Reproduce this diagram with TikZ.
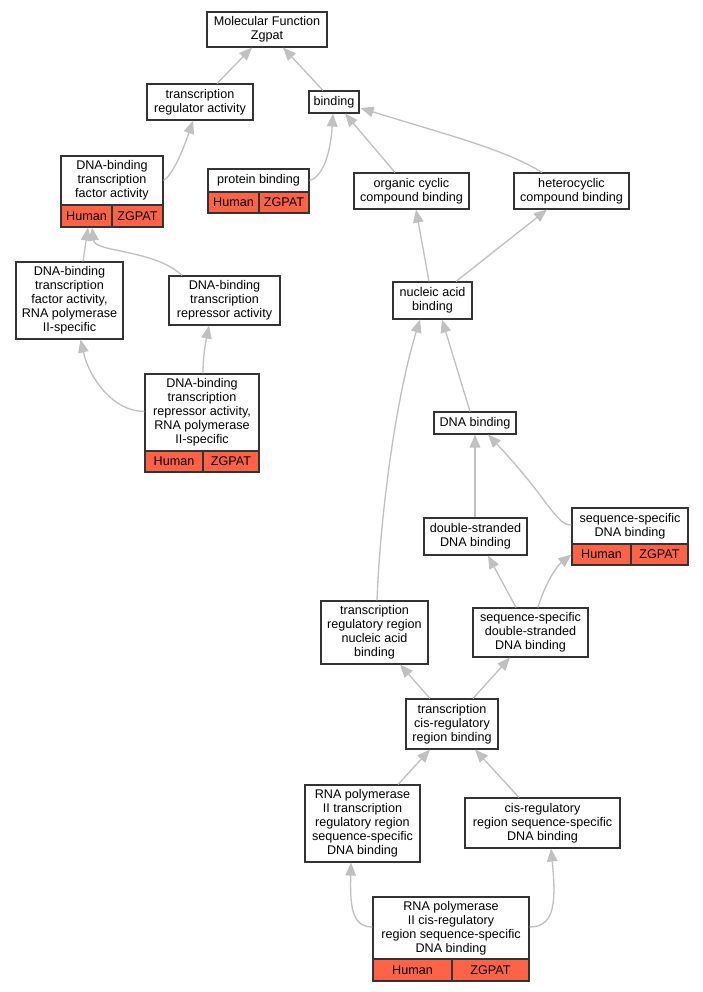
\documentclass[tikz,border=0pt]{standalone}
\usepackage{fontspec}
\setmainfont{Liberation Sans}
\usetikzlibrary{arrows.meta,calc}
\definecolor{edgec}{HTML}{C0C0C0}
\definecolor{boxc}{HTML}{333333}
\definecolor{annot}{HTML}{FF6347}
\begin{document}
\begin{tikzpicture}[x=1pt,y=-1pt,
  box/.style={draw=boxc,line width=1.1pt,fill=white,inner sep=0pt,align=center,font=\fontsize{12.6}{14}\selectfont},
  cell/.style={box,fill=annot},
  edge/.style={draw=edgec,line width=1.3pt,-{Triangle[length=13pt,width=10.5pt]}}]
\fill[white] (0,0) rectangle (703,992);
\useasboundingbox (0,0) rectangle (703,992);
% nodes
\node[box,minimum width=120pt,minimum height=35pt] (mf) at (267,29.5) {Molecular Function\\Zgpat};
\node[box,minimum width=106pt,minimum height=36pt] (tra) at (200,102) {transcription\\regulator activity};
\node[box,minimum width=50pt,minimum height=22pt] (bind) at (334,102) {binding};
\node[box,minimum width=102pt,minimum height=49pt] (dbtfa) at (112,180.5) {DNA-binding\\transcription\\factor activity};
\node[cell,minimum width=51pt,minimum height=22pt] (dbtfaH) at (86.5,216) {Human};
\node[cell,minimum width=51pt,minimum height=22pt] (dbtfaZ) at (137.5,216) {ZGPAT};
\node[box,minimum width=101pt,minimum height=23pt] (prot) at (258.5,180.5) {protein binding};
\node[cell,minimum width=51pt,minimum height=21pt] (protH) at (233.5,202.5) {Human};
\node[cell,minimum width=50pt,minimum height=21pt] (protZ) at (284,202.5) {ZGPAT};
\node[box,minimum width=115pt,minimum height=36pt] (org) at (411.5,191) {organic cyclic\\compound binding};
\node[box,minimum width=115pt,minimum height=36pt] (het) at (571.5,191) {heterocyclic\\compound binding};
\node[box,minimum width=79pt,minimum height=37pt] (nab) at (432.5,300.5) {nucleic acid\\binding};
\node[box,minimum width=107pt,minimum height=77pt] (dbtf2) at (69.5,300.5) {DNA-binding\\transcription\\factor activity,\\RNA polymerase\\II-specific};
\node[box,minimum width=111pt,minimum height=49pt] (dbtr) at (224.5,300.5) {DNA-binding\\transcription\\repressor activity};
\node[box,minimum width=114pt,minimum height=77pt] (dbtr2) at (202,412.5) {DNA-binding\\transcription\\repressor activity,\\RNA polymerase\\II-specific};
\node[cell,minimum width=58pt,minimum height=21pt] (dbtr2H) at (174,461.5) {Human};
\node[cell,minimum width=56pt,minimum height=21pt] (dbtr2Z) at (231,461.5) {ZGPAT};
\node[box,minimum width=82pt,minimum height=22pt] (dnab) at (475,423) {DNA binding};
\node[box,minimum width=103pt,minimum height=37pt] (ds) at (475.5,536.5) {double-stranded\\DNA binding};
\node[box,minimum width=116pt,minimum height=36pt] (ssd) at (630,526) {sequence-specific\\DNA binding};
\node[cell,minimum width=59pt,minimum height=21pt] (ssdH) at (601.5,554.5) {Human};
\node[cell,minimum width=57pt,minimum height=21pt] (ssdZ) at (659.5,554.5) {ZGPAT};
\node[box,minimum width=107pt,minimum height=63pt] (trr) at (374.5,632.5) {transcription\\regulatory region\\nucleic acid\\binding};
\node[box,minimum width=115pt,minimum height=49pt] (ssds) at (530.5,632.5) {sequence-specific\\double-stranded\\DNA binding};
\node[box,minimum width=92pt,minimum height=50pt] (tcrrb) at (452,724) {transcription\\cis-regulatory\\region binding};
\node[box,minimum width=115pt,minimum height=77pt] (rna2trr) at (362.5,823.5) {RNA polymerase\\II transcription\\regulatory region\\sequence-specific\\DNA binding};
\node[box,minimum width=155pt,minimum height=50pt] (cisr) at (542.5,823) {cis-regulatory\\region sequence-specific\\DNA binding};
\node[box,minimum width=156pt,minimum height=62pt] (rna2cis) at (451,928) {RNA polymerase\\II cis-regulatory\\region sequence-specific\\DNA binding};
\node[cell,minimum width=79pt,minimum height=22pt] (rna2cisH) at (412.5,970) {Human};
\node[cell,minimum width=77pt,minimum height=22pt] (rna2cisZ) at (490.5,970) {ZGPAT};
% edges
\draw[edge] ($(tra.north)+(17,0)$) -- ($(mf.south)+(-15,0)$);
\draw[edge] ($(bind.north)+(-11,0)$) -- ($(mf.south)+(16,0)$);
\draw[edge] (dbtfa.east) .. controls +(9,-5.5) and +(-10,30) .. ($(tra.south)+(-7,0)$);
\draw[edge] (prot.east) .. controls +(16,-4.5) and +(-2,32) .. ($(bind.south)+(-1,0)$);
\draw[edge] ($(org.north)+(-16.5,0)$) -- ($(bind.south)+(11,0)$);
\draw[edge] ($(het.north)+(-29.5,0)$) .. controls +(-37,-23) and +(90,28) .. ($(bind.east)+(1,6)$);
\draw[edge] ($(nab.north)+(-3.5,0)$) -- ($(org.south)+(4.5,0)$);
\draw[edge] ($(nab.north)+(23.5,0)$) -- ($(het.south)+(-24.5,0)$);
\draw[edge] ($(dbtf2.north)+(13.5,0)$) -- ($(dbtfaH.south)+(1.5,0)$);
\draw[edge] ($(dbtr.north)+(-42.5,0)$) .. controls +(-27,-26) and +(3,25) .. ($(dbtfaH.south)+(5.5,0)$);
\draw[edge] ($(dbtr2.west)+(0,-1)$) .. controls +(-30,0) and +(9.5,41) .. ($(dbtf2.south)+(11,0)$);
\draw[edge] ($(dbtr2.north)+(1,0)$) .. controls +(0,-19) and +(-3,15) .. ($(dbtr.south)+(-15.5,0)$);
\draw[edge] ($(dnab.north)+(-5,0)$) -- ($(nab.south)+(9.5,0)$);
\draw[edge] ($(trr.north)+(2.5,0)$) .. controls +(3,-81) and +(-25,81) .. ($(nab.south)+(-12.5,0)$);
\draw[edge] ($(ds.north)+(-0.5,0)$) -- (dnab.south);
\draw[edge] ($(ssd.west)+(0,-1)$) .. controls +(-16,0) and +(62,66) .. ($(dnab.south)+(13,0)$);
\draw[edge] ($(ssds.north)+(-14.5,0)$) -- ($(ds.south)+(12.5,0)$);
\draw[edge] ($(ssds.north)+(7.5,0)$) .. controls +(5,-18) and +(-17,13.5) .. (ssdH.west);
\draw[edge] ($(tcrrb.north)+(-22,0)$) -- ($(trr.south)+(25.5,0)$);
\draw[edge] ($(tcrrb.north)+(21,0)$) -- ($(ssds.south)+(-20.5,0)$);
\draw[edge] ($(rna2trr.north)+(35.5,0)$) -- ($(tcrrb.south)+(-22,0)$);
\draw[edge] ($(cisr.north)+(-23.5,0)$) -- ($(tcrrb.south)+(23,0)$);
\draw[edge] ($(rna2cis.west)+(0,-1)$) .. controls +(-21,0) and +(-1,43) .. ($(rna2trr.south)+(-11.5,0)$);
\draw[edge] ($(rna2cis.east)+(0,-1)$) .. controls +(26,0) and +(5,52) .. ($(cisr.south)+(8.5,0)$);
\end{tikzpicture}
\end{document}
